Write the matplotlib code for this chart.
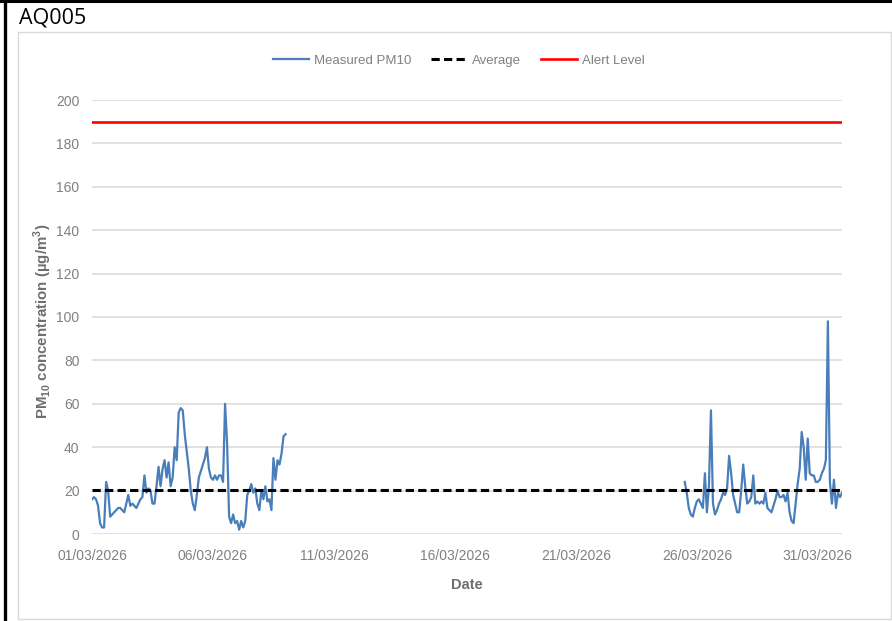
import numpy as np
import pandas as pd
import matplotlib
matplotlib.use('Agg')
import matplotlib.pyplot as plt
import matplotlib.dates as mdates
from matplotlib.lines import Line2D
from matplotlib.patches import Rectangle

plt.rcParams['font.family'] = ['Liberation Sans', 'DejaVu Sans']
plt.rcParams['mathtext.fontset'] = 'custom'
plt.rcParams['mathtext.rm'] = 'Liberation Sans'
plt.rcParams['mathtext.bf'] = 'Liberation Sans:bold'

# 2-hourly PM10 readings (ug/m3)
left_start = '2026-03-01 00:00'
left_vals = [16, 17, 16, 13, 5, 3, 3, 24, 20, 8,
             9, 10, 11, 12, 12, 11, 10, 14, 18, 13,
             14, 13, 12, 14, 16, 17, 27, 19, 21, 20,
             14, 14, 22, 31, 22, 30, 34, 26, 33, 22,
             26, 40, 34, 56, 58, 57, 46, 38, 30, 20,
             14, 11, 18, 26, 29, 32, 35, 40, 30, 26,
             25, 27, 25, 27, 27, 24, 60, 42, 8, 5,
             9, 5, 6, 2, 6, 3, 6, 18, 20, 23,
             19, 21, 14, 11, 20, 16, 22, 15, 16, 11,
             35, 25, 34, 32, 37, 45, 46]

right_start = '2026-03-25 12:00'
right_vals = [24, 19, 12, 9, 8, 12, 15, 16, 14, 12,
              28, 10, 22, 57, 14, 9, 11, 14, 16, 19,
              18, 21, 36, 28, 18, 14, 10, 10, 20, 32,
              22, 14, 15, 17, 27, 14, 15, 14, 15, 14,
              19, 12, 11, 10, 13, 16, 20, 17, 17, 18,
              15, 19, 10, 6, 5, 14, 23, 30, 47, 40,
              25, 44, 28, 27, 27, 24, 24, 25, 28, 30,
              34, 98, 24, 14, 25, 12, 19, 17, 19]

average = 20.5
alert_level = 190
x_start, x_end = '2026-03-01', '2026-04-01'
x_ticks = ['2026-03-01', '2026-03-06', '2026-03-11', '2026-03-16',
           '2026-03-21', '2026-03-26', '2026-03-31']
y_ticks = list(range(0, 201, 20))

left_t = pd.date_range(left_start, periods=len(left_vals), freq='2h')
right_t = pd.date_range(right_start, periods=len(right_vals), freq='2h')

W, H = 892, 621
fig = plt.figure(figsize=(W / 100, H / 100), dpi=100)

# frame bits
fig.add_artist(Line2D([0, 1], [1 - 1.3 / H, 1 - 1.3 / H], color='black', lw=2.2))
fig.add_artist(Line2D([5 / W, 5 / W], [0, 1], color='black', lw=2.4))
fig.add_artist(Rectangle((18 / W, 2 / H), 873 / W, 587 / H, fill=False,
                         edgecolor='#D9D9D9', lw=1.0))
fig.text(19 / W, 1 - 18 / H, 'AQ005', fontsize=15.5,
         family=['Open Sans', 'Noto Sans', 'DejaVu Sans'],
         va='center', ha='left', color='black')

ax = fig.add_axes([92 / W, 1 - 534 / H, 750 / W, 434 / H])

blue = '#4A7EBB'
ax.plot(left_t, left_vals, color=blue, lw=1.6, label='Measured PM10', zorder=3)
ax.plot(right_t, right_vals, color=blue, lw=1.6, zorder=3)
xs = [pd.Timestamp(x_start), pd.Timestamp(x_end)]
ax.plot(xs, [average, average], color='black', lw=2.2,
        linestyle=(0, (2.7, 1.4)), label='Average', zorder=4)
ax.plot(xs, [alert_level, alert_level], color='#FF0000', lw=1.9,
        label='Alert Level', zorder=4)

ax.set_xlim(xs)
ax.set_ylim(0, 200)
ax.set_yticks(y_ticks)
ax.set_xticks(pd.to_datetime(x_ticks))
ax.xaxis.set_major_formatter(mdates.DateFormatter('%d/%m/%Y'))

for s in ax.spines.values():
    s.set_visible(False)
ax.yaxis.grid(True, color='#D9D9D9', lw=1.1)
ax.set_axisbelow(True)
ax.tick_params(length=0, labelsize=10, labelcolor='#808080')
ax.tick_params(axis='y', pad=9)
ax.tick_params(axis='x', pad=11)

ax.set_ylabel(r'PM$_{\mathbf{10}}$ concentration (µg/m$^{\mathbf{3}}$)',
              fontsize=10.8, fontweight='bold', color='#6E6E6E')
ax.yaxis.set_label_coords(-38 / 750, 0.49)
ax.set_xlabel('Date', fontsize=10.5, fontweight='bold', color='#6E6E6E')
ax.xaxis.set_label_coords(0.5, -(578 - 534) / 434)

leg = fig.legend(loc='center', bbox_to_anchor=(459 / W, 1 - 61 / H), ncol=3,
                 frameon=False, fontsize=9.5, handlelength=2.7,
                 handletextpad=0.4, columnspacing=1.5)
for t in leg.get_texts():
    t.set_color('#808080')

fig.savefig('out.png', dpi=100)
